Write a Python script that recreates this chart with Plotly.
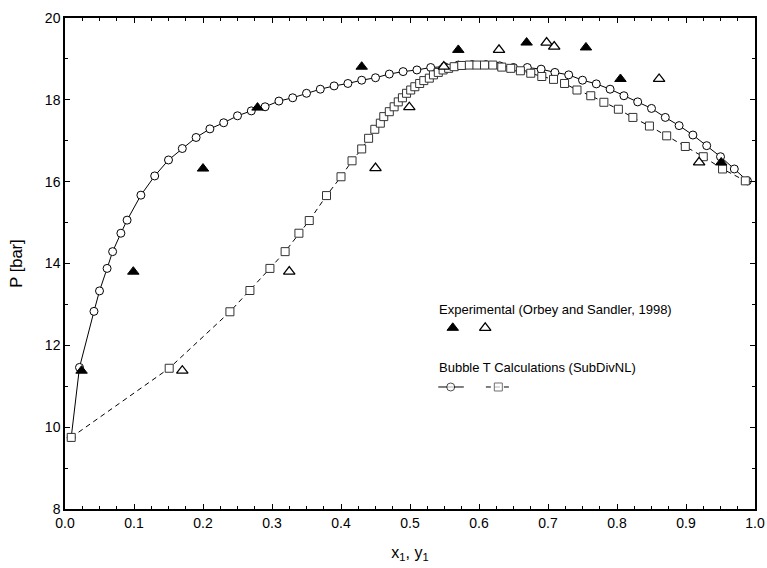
import plotly.graph_objects as go

# Bubble T calculation, liquid branch (x1, P)
x_liq = [0.009, 0.021, 0.042, 0.050, 0.061, 0.069, 0.081, 0.090, 0.110, 0.130, 0.150,
         0.170, 0.190, 0.210, 0.230, 0.250, 0.270, 0.290, 0.310, 0.330, 0.350, 0.370,
         0.390, 0.410, 0.430, 0.450, 0.470, 0.490, 0.510, 0.530, 0.550, 0.570, 0.590,
         0.610, 0.630, 0.650, 0.670, 0.690, 0.710, 0.730, 0.750, 0.770, 0.790, 0.810,
         0.830, 0.850, 0.870, 0.890, 0.910, 0.930, 0.950, 0.970, 0.989]
p_liq = [9.75, 11.46, 12.83, 13.33, 13.88, 14.29, 14.74, 15.06, 15.67, 16.14, 16.53,
         16.81, 17.08, 17.29, 17.44, 17.61, 17.73, 17.83, 17.97, 18.05, 18.16, 18.26,
         18.34, 18.40, 18.48, 18.54, 18.63, 18.69, 18.73, 18.79, 18.81, 18.85, 18.86,
         18.86, 18.83, 18.79, 18.79, 18.75, 18.67, 18.61, 18.48, 18.39, 18.26, 18.10,
         17.95, 17.79, 17.57, 17.37, 17.14, 16.88, 16.61, 16.31, 16.02]

# Bubble T calculation, vapour branch (y1, P)
y_vap = [0.009, 0.151, 0.239, 0.268, 0.297, 0.319, 0.339, 0.354, 0.379, 0.400, 0.416,
         0.430, 0.440, 0.449, 0.457, 0.462, 0.470, 0.477, 0.483, 0.489, 0.495, 0.501,
         0.507, 0.514, 0.520, 0.528, 0.534, 0.541, 0.548, 0.556, 0.564, 0.575, 0.586,
         0.597, 0.608, 0.620, 0.633, 0.646, 0.660, 0.675, 0.691, 0.708, 0.724, 0.742,
         0.762, 0.781, 0.802, 0.823, 0.847, 0.872, 0.899, 0.925, 0.953, 0.986]
p_vap = [9.75, 11.44, 12.82, 13.34, 13.88, 14.29, 14.74, 15.05, 15.66, 16.12, 16.51,
         16.80, 17.06, 17.28, 17.43, 17.59, 17.71, 17.83, 17.95, 18.05, 18.16, 18.24,
         18.32, 18.40, 18.47, 18.53, 18.61, 18.67, 18.73, 18.77, 18.81, 18.84, 18.85,
         18.85, 18.85, 18.85, 18.80, 18.77, 18.71, 18.65, 18.57, 18.50, 18.40, 18.24,
         18.10, 17.94, 17.77, 17.57, 17.36, 17.12, 16.86, 16.61, 16.31, 16.02]

# Experimental data (Orbey and Sandler, 1998)
x_exp = [0.024, 0.099, 0.200, 0.279, 0.430, 0.570, 0.669, 0.755, 0.805, 0.951]
px_exp = [11.38, 13.80, 16.32, 17.81, 18.81, 19.22, 19.40, 19.28, 18.51, 16.47]
y_exp = [0.170, 0.325, 0.450, 0.499, 0.549, 0.629, 0.698, 0.709, 0.861, 0.919]
py_exp = [11.38, 13.80, 16.33, 17.82, 18.81, 19.22, 19.40, 19.30, 18.51, 16.47]

FONT = "Liberation Sans, Arial, sans-serif"

fig = go.Figure()
fig.add_trace(go.Scatter(
    x=x_liq, y=p_liq, mode="lines+markers",
    line=dict(color="black", width=1),
    marker=dict(symbol="circle", size=8, color="white", line=dict(color="black", width=1)),
    showlegend=False))
fig.add_trace(go.Scatter(
    x=y_vap, y=p_vap, mode="lines+markers",
    line=dict(color="black", width=1, dash="5px,4px"),
    marker=dict(symbol="square", size=8, color="white", line=dict(color="#333333", width=1)),
    showlegend=False))
fig.add_trace(go.Scatter(
    x=x_exp, y=px_exp, mode="markers",
    marker=dict(symbol="triangle-up", size=10, color="black", line=dict(color="black", width=1)),
    showlegend=False))
fig.add_trace(go.Scatter(
    x=y_exp, y=py_exp, mode="markers",
    marker=dict(symbol="triangle-up", size=10, color="white", line=dict(color="black", width=1.3)),
    showlegend=False))

# legend items drawn on an overlay axis spanning the plot area (paper-like coords)
leg_y1 = 0.369
leg_y2 = 0.2485
fig.add_trace(go.Scatter(
    x=[0.562], y=[leg_y1], xaxis="x2", yaxis="y2", mode="markers",
    marker=dict(symbol="triangle-up", size=10, color="black", line=dict(color="black", width=1)),
    showlegend=False, hoverinfo="skip"))
fig.add_trace(go.Scatter(
    x=[0.609], y=[leg_y1], xaxis="x2", yaxis="y2", mode="markers",
    marker=dict(symbol="triangle-up", size=10, color="white", line=dict(color="black", width=1.3)),
    showlegend=False, hoverinfo="skip"))
fig.add_trace(go.Scatter(
    x=[0.541, 0.559, 0.578], y=[leg_y2, leg_y2, leg_y2], xaxis="x2", yaxis="y2",
    mode="lines+markers",
    line=dict(color="black", width=1),
    marker=dict(symbol="circle", size=[0, 8, 0], color="white", line=dict(color="black", width=[0, 1, 0])),
    showlegend=False, hoverinfo="skip"))
fig.add_trace(go.Scatter(
    x=[0.610, 0.628, 0.645], y=[leg_y2, leg_y2, leg_y2], xaxis="x2", yaxis="y2",
    mode="lines+markers",
    line=dict(color="black", width=1, dash="5px,4px"),
    marker=dict(symbol="square", size=[0, 8, 0], color="white", line=dict(color="#333333", width=[0, 1, 0])),
    showlegend=False, hoverinfo="skip"))

axis_common = dict(
    showline=True, linecolor="black", linewidth=1.5, mirror="allticks",
    ticks="inside", ticklen=5, tickwidth=1, tickcolor="black",
    showgrid=False, zeroline=False, automargin=False,
    tickfont=dict(family=FONT, size=14, color="black"),
)

fig.update_layout(
    width=767, height=568,
    margin=dict(l=65, r=12, t=18, b=59, autoexpand=False),
    paper_bgcolor="white", plot_bgcolor="white",
    font=dict(family=FONT, color="black"),
    xaxis=dict(range=[0, 1], tick0=0, dtick=0.1, tickformat=".1f",
               minor=dict(ticks="inside", ticklen=3, dtick=0.025, tickcolor="black", tickwidth=1),
               title=dict(text="x<sub>1</sub>, y<sub>1</sub>", font=dict(family=FONT, size=16), standoff=17),
               **axis_common),
    yaxis=dict(range=[8, 20], tick0=8, dtick=2,
               minor=dict(ticks="inside", ticklen=3, dtick=1, tickcolor="black", tickwidth=1),
               title=dict(text="P [bar]", font=dict(family=FONT, size=16.5), standoff=18),
               **axis_common),
    xaxis2=dict(range=[0, 1], overlaying="x", visible=False),
    yaxis2=dict(range=[0, 1], overlaying="y", visible=False),
    annotations=[
        dict(text="Experimental (Orbey and Sandler, 1998)", x=0.539, y=0.407,
             xref="x2", yref="y2", xanchor="left", yanchor="middle", showarrow=False,
             font=dict(family=FONT, size=13, color="black")),
        dict(text="Bubble T Calculations (SubDivNL)", x=0.539, y=0.289,
             xref="x2", yref="y2", xanchor="left", yanchor="middle", showarrow=False,
             font=dict(family=FONT, size=13, color="black")),
    ],
)

fig.write_html("out.html", config={"displayModeBar": False},
               post_script="document.body.style.margin='0';document.body.style.overflow='hidden';")
